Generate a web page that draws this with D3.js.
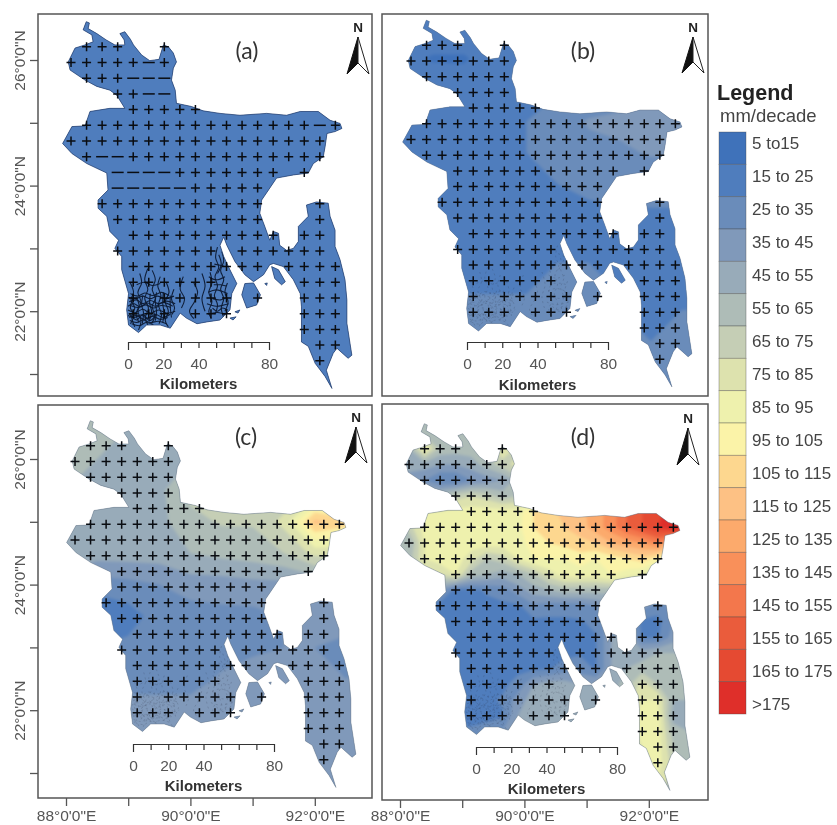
<!DOCTYPE html>
<html>
<head>
<meta charset="utf-8">
<script src="https://cdn.jsdelivr.net/npm/d3@7"></script>
<style>
  html, body { margin: 0; padding: 0; background: #fff; }
  svg { display: block; filter: blur(0.6px); }
  text { font-family: "Liberation Sans", Arial, sans-serif; }
</style>
</head>
<body>
<svg id="chart" width="837" height="825"></svg>
<script>
// legend classes, mm/decade
const classLabels = ['5 to15', '15 to 25', '25 to 35', '35 to 45', '45 to 55', '55 to 65', '65 to 75', '75 to 85', '85 to 95',
  '95 to 105', '105 to 115', '115 to 125', '125 to 135', '135 to 145', '145 to 155', '155 to 165', '165 to 175', '>175'];
const classBreaks = [5, 15, 25, 35, 45, 55, 65, 75, 85, 95, 105, 115, 125, 135, 145, 155, 165, 175];
const classColors = ['#3f72ba', '#4f7dbd', '#6a8cba', '#8099ba', '#98abb9', '#aebcb7', '#c5ceb5', '#dde2ae', '#eef1ad',
  '#fbf3a8', '#fdd78f', '#fdc184', '#fcaa6c', '#f9905a', '#f3774c', '#ea5c3c', '#e54a32', '#df2f2a'];

// country outline, lon/lat
const mainland = [[88.39,26.61],[88.44,26.59],[88.42,26.50],[88.56,26.42],[88.71,26.32],[88.85,26.24],[89.01,26.24],[89.00,26.32],[88.93,26.42],[89.01,26.45],
  [89.10,26.33],[89.15,26.24],[89.28,26.08],[89.41,25.99],[89.56,26.01],[89.63,26.24],[89.71,26.21],[89.79,26.11],[89.84,25.97],[89.79,25.87],
  [89.76,25.68],[89.82,25.52],[89.84,25.31],[90.08,25.26],[90.27,25.19],[90.54,25.15],[90.86,25.12],[91.29,25.15],[91.61,25.12],[91.83,25.18],
  [92.12,25.18],[92.31,25.04],[92.47,24.99],[92.50,24.91],[92.39,24.86],[92.26,24.83],[92.23,24.62],[92.20,24.46],[92.04,24.35],[91.96,24.20],
  [91.72,24.17],[91.45,24.12],[91.32,23.93],[91.21,23.77],[91.18,23.56],[91.26,23.35],[91.34,23.13],[91.40,23.27],[91.48,23.24],[91.50,23.05],
  [91.61,22.97],[91.72,23.00],[91.80,23.11],[91.80,23.35],[91.96,23.51],[91.93,23.69],[92.09,23.74],[92.28,23.72],[92.31,23.51],[92.39,23.29],
  [92.39,23.03],[92.47,22.82],[92.55,22.50],[92.58,22.18],[92.58,21.81],[92.66,21.30],[92.60,21.25],[92.42,21.41],[92.36,21.33],[92.25,21.06],
  [92.34,20.77],[92.23,20.96],[92.07,21.17],[91.96,21.44],[91.85,21.51],[91.85,21.86],[91.85,22.07],[91.83,22.28],[91.72,22.50],[91.56,22.71],
  [91.40,22.76],[91.34,22.74],[91.24,22.58],[91.08,22.47],[90.94,22.58],[90.78,22.79],[90.65,23.05],[90.60,23.18],[90.54,23.05],[90.60,22.87],
  [90.70,22.66],[90.81,22.44],[90.73,22.28],[90.70,22.02],[90.54,21.86],[90.33,21.83],[90.17,21.80],[90.00,21.89],[89.90,21.97],[89.74,21.73],
  [89.58,21.78],[89.36,21.78],[89.23,21.66],[89.07,21.78],[89.04,22.02],[89.07,22.28],[88.96,22.66],[88.96,22.87],[88.85,23.00],[88.91,23.13],
  [88.77,23.27],[88.72,23.51],[88.58,23.64],[88.58,23.77],[88.74,23.93],[88.72,24.20],[88.40,24.35],[88.16,24.51],[88.01,24.67],[88.16,24.94],
  [88.37,24.95],[88.45,25.18],[88.77,25.23],[89.01,25.23],[88.88,25.44],[88.77,25.52],[88.56,25.58],[88.37,25.68],[88.13,25.84],[88.10,25.97],
  [88.21,26.19],[88.37,26.24],[88.50,26.29],[88.48,26.40],[88.34,26.48]];
const islands = [
  [[90.94,22.44],[91.08,22.45],[91.19,22.26],[91.13,22.10],[90.97,22.05],[90.89,22.26]],
  [[91.37,22.71],[91.48,22.66],[91.59,22.47],[91.53,22.42],[91.42,22.52]],
  [[91.26,22.44],[91.30,22.45],[91.29,22.41]],
  [[90.78,21.99],[90.86,22.02],[90.83,21.97]],
  [[90.70,21.89],[90.80,21.91],[90.75,21.86]]];

// delta channels in the south
const rivers = [
  [[89.10,22.45],[89.15,22.30],[89.11,22.18],[89.17,22.05],[89.12,21.92],[89.17,21.75]],
  [[89.25,22.60],[89.28,22.45],[89.22,22.30],[89.27,22.15],[89.22,22.00],[89.27,21.85],[89.23,21.70]],
  [[89.38,22.68],[89.33,22.50],[89.38,22.35],[89.33,22.20],[89.39,22.05],[89.34,21.90],[89.38,21.78]],
  [[89.45,22.65],[89.50,22.50],[89.45,22.35],[89.50,22.20],[89.45,22.08],[89.49,21.92],[89.44,21.80]],
  [[89.58,22.55],[89.54,22.40],[89.59,22.25],[89.55,22.10],[89.60,21.95],[89.56,21.80]],
  [[89.68,22.45],[89.72,22.30],[89.66,22.15],[89.71,22.00],[89.66,21.85],[89.71,21.75]],
  [[89.80,22.35],[89.76,22.20],[89.81,22.05],[89.77,21.95]],
  [[89.08,22.15],[89.20,22.18],[89.30,22.12],[89.42,22.17],[89.55,22.12],[89.68,22.16],[89.82,22.12]],
  [[89.06,22.02],[89.18,21.98],[89.30,22.03],[89.42,21.97],[89.55,22.02],[89.68,21.97],[89.82,22.00]],
  [[89.08,21.90],[89.20,21.93],[89.32,21.87],[89.45,21.92],[89.58,21.87],[89.70,21.90]],
  [[89.10,22.28],[89.22,22.24],[89.33,22.29],[89.46,22.25],[89.60,22.30],[89.72,22.25]],
  [[89.20,22.42],[89.32,22.46],[89.45,22.41],[89.58,22.44]],
  [[89.12,21.80],[89.25,21.77],[89.35,21.82],[89.47,21.78]],
  [[89.10,22.09],[89.22,22.06],[89.35,22.10],[89.47,22.05],[89.60,22.09],[89.75,22.06]],
  [[89.08,21.96],[89.20,21.86],[89.30,21.95],[89.41,21.85],[89.52,21.95]],
  [[89.06,22.08],[89.15,22.12],[89.26,22.07],[89.37,22.13],[89.50,22.08],[89.62,22.14],[89.78,22.08]],
  [[89.06,21.93],[89.16,21.90],[89.27,21.94],[89.38,21.88],[89.50,21.95],[89.62,21.90],[89.74,21.95]],
  [[89.09,21.85],[89.20,21.82],[89.30,21.86],[89.42,21.82],[89.55,21.84],[89.68,21.80]],
  [[89.07,22.22],[89.18,22.20],[89.30,22.24],[89.42,22.20],[89.53,22.24],[89.66,22.20],[89.80,22.24]],
  [[89.14,22.20],[89.10,22.05],[89.16,21.95],[89.10,21.80]],
  [[89.20,22.20],[89.24,22.10],[89.19,21.95],[89.24,21.82]],
  [[89.30,22.25],[89.28,22.10],[89.31,21.98],[89.29,21.80]],
  [[89.42,22.28],[89.41,22.12],[89.44,22.00],[89.40,21.84]],
  [[89.52,22.30],[89.50,22.15],[89.52,22.00],[89.50,21.85]],
  [[89.63,22.30],[89.62,22.12],[89.64,21.98],[89.62,21.82]],
  [[89.74,22.25],[89.74,22.08],[89.76,21.90]],
  [[90.50,23.02],[90.47,22.85],[90.52,22.70],[90.46,22.55],[90.50,22.40],[90.45,22.25],[90.50,22.10],[90.46,21.95]],
  [[90.57,22.95],[90.60,22.80],[90.55,22.65],[90.60,22.50],[90.55,22.35],[90.60,22.20],[90.56,22.05],[90.60,21.90]],
  [[90.38,22.62],[90.41,22.45],[90.36,22.30],[90.41,22.15],[90.36,22.00],[90.40,21.88]],
  [[90.66,22.45],[90.62,22.30],[90.67,22.15],[90.62,22.00]],
  [[90.36,22.55],[90.48,22.50],[90.62,22.55]],
  [[90.35,22.30],[90.48,22.34],[90.66,22.28]],
  [[90.33,22.12],[90.48,22.08],[90.68,22.12]],
  [[90.35,21.95],[90.50,21.98],[90.66,21.93]],
  [[90.45,22.75],[90.60,22.72]],
  [[90.42,22.05],[90.50,22.00],[90.58,22.05],[90.66,22.02]],
  [[90.52,22.90],[90.56,22.75],[90.50,22.60]],
  [[90.44,22.42],[90.55,22.42],[90.64,22.40]],
  [[90.42,22.20],[90.55,22.18],[90.65,22.22]],
  [[89.95,22.55],[89.90,22.35],[89.97,22.20],[89.92,22.05]],
  [[90.12,22.45],[90.18,22.30],[90.13,22.15],[90.05,22.00],[90.12,21.88]],
  [[90.25,22.60],[90.30,22.40],[90.25,22.20],[90.30,22.00]]];

// station grid
const gridLons = [88.145, 88.395, 88.645, 88.895, 89.145, 89.395, 89.645, 89.895, 90.145, 90.395, 90.645, 90.895, 91.145, 91.395, 91.645, 91.895, 92.145, 92.395];
const gridLats = [26.21, 25.96, 25.71, 25.46, 25.21, 24.96, 24.71, 24.46, 24.21, 23.96, 23.71, 23.46, 23.21, 22.96, 22.71, 22.46, 22.21, 21.96, 21.71, 21.46, 21.21];
const gridCols = [
  [1,2,3,6], [0,1,2,3,4,5,6], [1,2,3,4,5,6], [3,4,5,6], [4,5,6,7,8],
  [1,2,3,4,5,6,7,8,9,10,11,12,13,14,15,16,17], [0,1,2,3,4,5,6,7,8,9,10,11,12,13,14,15,16], [1,2,3,4,5,6,7,8,9,10,11,12,13,14,15,16],
  [3,4,5,6,7,8,9,10,11,12,13,15], [3,4,5,6,7,8,9,10,11,12], [2,3,4,5,6,7,8,9,10,11,12,16], [3,4,5,6,7,8,9,10,11,12,16],
  [4,5,6,7,8,9,10,11,12,13,15,16], [3,4,5,6,7,8,9,11,12,13,14,15,16], [4,5,6,7,8,9,10,11,12,14,15,16,17], [4,5,6,7,8,9,15,16,17],
  [4,6,7,8,9,10,12,15,16,17], [4,5,6,8,9,10,15,16,17], [15,16,17], [16,17], [16]];
// in (a) these stations print as a dash, [row, col]
const dashCellsA = [[1,5],[2,4],[2,5],[2,6],[3,5],[3,6],[5,16],[7,2],[7,3],[8,3],[8,4],[8,5],[8,6],[9,3],[9,4],[9,5],[9,6],[9,7]];

// trend surfaces
const coarseLons = [88, 88.5, 89, 89.5, 90, 90.5, 91, 91.5, 92, 92.5, 93];
const coarseLats = [26.5, 26, 25.5, 25, 24.5, 24, 23.5, 23, 22.5, 22, 21.5, 21, 20.5];
const valuesA = [
  [20,20,20,20,20,20,20,20,20,20,20],[20,20,20,20,20,20,20,20,20,20,20],[20,20,20,20,20,20,20,20,20,20,20],
  [20,20,20,20,20,20,20,20,20,20,20],[20,20,20,20,20,20,20,20,20,20,20],[20,20,20,20,20,20,20,20,20,20,20],
  [20,20,20,20,20,20,20,20,20,20,20],[20,20,20,20,20,20,20,20,20,20,20],[20,20,20,20,20,20,20,20,20,20,20],
  [20,20,20,20,20,20,20,20,20,20,20],[20,20,20,20,20,20,20,20,20,20,20],[20,20,20,20,20,20,20,20,20,20,20],
  [20,20,20,20,20,20,20,20,20,20,20]];
const valuesB = [
  [22,22,22,22,22,22,22,22,22,22,22],
  [18,14,14,20,22,22,22,22,22,22,22],
  [22,22,20,22,23,24,26,28,30,30,30],
  [24,22,22,23,25,30,36,38,43,43,40],
  [22,22,22,24,25,29,32,33,36,36,35],
  [22,22,22,23,24,25,26,27,28,28,28],
  [22,22,21,22,23,24,24,24,24,24,24],
  [22,22,22,22,23,24,24,23,23,23,23],
  [24,24,24,24,24,26,26,24,23,24,24],
  [26,26,26,26,26,27,27,25,24,25,25],
  [26,26,26,26,26,26,26,26,25,25,25],
  [26,26,26,26,26,26,26,26,25,25,25],
  [26,26,26,26,26,26,26,26,25,25,25]];
const valuesC = [
  [58,58,55,55,55,55,55,55,55,55,55],
  [58,55,48,50,55,56,56,56,56,56,56],
  [55,52,50,52,68,72,66,66,74,72,72],
  [50,52,50,52,62,66,66,78,118,110,100],
  [50,50,50,50,55,58,60,65,78,78,70],
  [40,30,32,35,40,40,42,42,45,50,50],
  [20,15,20,30,30,32,32,35,40,40,40],
  [30,25,28,28,30,32,32,35,35,32,32],
  [32,32,32,32,32,36,42,42,35,35,38],
  [36,36,38,38,38,40,42,40,38,38,40],
  [40,40,40,40,40,40,40,42,42,40,40],
  [40,40,40,40,40,40,40,42,44,42,40],
  [40,40,40,40,40,40,40,42,44,42,40]];
const fineLons = [87.895, 88.145, 88.395, 88.645, 88.895, 89.145, 89.395, 89.645, 89.895, 90.145, 90.395, 90.645, 90.895, 91.145, 91.395, 91.645, 91.895, 92.145, 92.395, 92.645];
const fineLats = [26.46, 26.21, 25.96, 25.71, 25.46, 25.21, 24.96, 24.71, 24.46, 24.21, 23.96, 23.71, 23.46, 23.21, 22.96, 22.71, 22.46, 22.21, 21.96, 21.71, 21.46, 21.21, 20.96];
const valuesD = [
  [60,60,60,62,62,60,60,60,60,60,60,60,60,60,60,60,60,60,60,60],
  [55,55,90,62,60,60,60,85,72,72,60,60,60,60,60,60,60,60,60,60],
  [50,50,50,45,45,50,60,70,80,80,80,80,80,80,80,80,80,80,80,80],
  [40,40,35,25,25,35,40,45,60,70,80,80,80,80,80,80,80,80,80,80],
  [60,60,60,60,70,75,70,60,65,75,85,85,85,85,85,85,85,85,85,85],
  [80,80,85,85,88,90,90,90,90,105,112,118,122,130,140,155,165,172,180,180],
  [65,70,90,90,90,90,90,90,92,105,110,115,120,130,140,155,165,175,185,180],
  [60,55,85,90,90,90,90,90,90,100,105,108,112,115,125,130,135,145,120,110],
  [60,60,85,90,90,80,65,70,85,95,95,95,100,95,100,105,110,100,90,90],
  [60,60,70,75,85,60,55,50,55,65,80,90,90,90,95,90,85,70,70,70],
  [40,40,40,40,22,23,26,30,40,50,55,60,60,60,60,60,60,50,50,50],
  [20,20,20,20,23,23,23,23,23,33,30,30,30,35,40,40,40,30,35,35],
  [22,22,22,22,23,23,23,23,23,23,23,23,24,28,40,40,22,22,35,35],
  [22,22,22,22,22,22,23,23,23,23,23,23,24,24,45,50,24,24,40,40],
  [18,18,18,18,18,23,23,23,23,23,22,22,24,24,45,50,50,55,55,55],
  [23,23,23,23,23,23,23,23,23,23,24,30,30,24,45,55,60,60,58,55],
  [23,23,23,23,23,23,23,23,28,45,50,50,45,45,50,60,80,65,55,55],
  [23,23,23,23,23,23,23,26,40,50,50,50,50,50,50,70,85,85,55,55],
  [23,23,23,23,23,23,23,24,45,50,50,50,50,50,50,75,90,90,50,50],
  [26,26,26,26,26,26,28,35,45,50,50,50,50,50,50,75,90,90,60,55],
  [28,28,28,28,28,28,28,35,45,50,50,50,50,50,50,70,85,90,65,60],
  [28,28,28,28,28,28,28,35,45,50,50,50,50,50,50,70,85,90,70,60],
  [28,28,28,28,28,28,28,35,45,50,50,50,50,50,50,70,85,85,70,60]];

const latTicks = [26, 25, 24, 23, 22, 21];
const lonTicks = [88, 89, 90, 91, 92];
const kmTicks = [0, 10, 20, 30, 40, 50, 60, 70, 80];
const kmLabels = [0, 20, 40, 80];

const pxPerLon = 62.2;
const pxPerLat = 62.8;

const panels = [
  { id: 'a', frame: [38, 14, 372, 396], x88: 62, y26: 60, lons: coarseLons, lats: coarseLats, values: valuesA, base: 20,
    left: true, bottom: false, bar: [128, 342], kmY: 389, label: [247, 59], arrow: [358, 32, 37, 74] },
  { id: 'b', frame: [382, 14, 708, 396], x88: 402, y26: 58.5, lons: coarseLons, lats: coarseLats, values: valuesB, base: 22,
    left: false, bottom: false, bar: [467, 342], kmY: 390, label: [583, 59], arrow: [693, 32, 37, 73] },
  { id: 'c', frame: [38, 405, 372, 798], x88: 66, y26: 459, lons: coarseLons, lats: coarseLats, values: valuesC, base: 50,
    left: true, bottom: true, tickPad: 4, bar: [133, 744], kmY: 791, label: [246, 445], arrow: [356, 422, 427, 463] },
  { id: 'd', frame: [382, 404, 708, 800], x88: 400, y26: 462, lons: fineLons, lats: fineLats, values: valuesD, base: 60,
    left: false, bottom: true, tickPad: 2, bar: [476, 747], kmY: 794, label: [583, 445], arrow: [688, 423, 428, 465] }
];

const svg = d3.select('#chart');
const grey = '#555';

panels.forEach((p) => {
  const [x0, y0, x1, y1] = p.frame;
  const lonScale = d3.scaleLinear().domain([88, 89]).range([p.x88, p.x88 + pxPerLon]);
  const latScale = d3.scaleLinear().domain([26, 25]).range([p.y26, p.y26 + pxPerLat]);
  const line = d3.line().x((d) => lonScale(d[0])).y((d) => latScale(d[1]));
  const land = [mainland, ...islands].map((r) => line(r) + 'Z').join('');

  svg.append('clipPath').attr('id', 'land-' + p.id).append('path').attr('d', land);

  const g = svg.append('g');

  // base fill, then the classed surface clipped to the country
  g.append('path').attr('d', land).attr('fill', classColors[d3.bisectRight(classBreaks, p.base) - 1]);

  const nx = p.lons.length;
  const ny = p.lats.length;
  const dLon = p.lons[1] - p.lons[0];
  const dLat = p.lats[0] - p.lats[1];
  const bands = d3.contours().size([nx, ny]).thresholds(classBreaks)(p.values.flat());
  const project = d3.geoTransform({
    point: function (x, y) {
      this.stream.point(lonScale(p.lons[0] + (x - 0.5) * dLon), latScale(p.lats[0] - (y - 0.5) * dLat));
    }
  });
  const bandPath = d3.geoPath(project);
  g.append('g')
    .attr('clip-path', 'url(#land-' + p.id + ')')
    .append('g')
    .style('filter', 'blur(1.6px)')
    .selectAll('path')
    .data(bands)
    .enter()
    .append('path')
    .attr('d', bandPath)
    .attr('fill', (d) => classColors[classBreaks.indexOf(d.value)]);

  // rivers: full black in (a), only a faint trace elsewhere
  g.append('g')
    .attr('clip-path', 'url(#land-' + p.id + ')')
    .selectAll('path')
    .data(rivers)
    .enter()
    .append('path')
    .attr('d', (d) => line.curve(d3.curveCatmullRom)(d))
    .attr('fill', 'none')
    .attr('stroke', p.id === 'a' ? '#0d1a33' : '#2b3444')
    .attr('stroke-width', p.id === 'a' ? 1.1 : 0.6)
    .attr('stroke-opacity', p.id === 'a' ? 0.95 : 0.3)
    .attr('stroke-dasharray', p.id === 'a' ? null : '2 3');
  line.curve(d3.curveLinear);

  g.append('path')
    .attr('d', land)
    .attr('fill', 'none')
    .attr('stroke', p.id === 'a' ? '#27406e' : '#5d6b80')
    .attr('stroke-width', p.id === 'a' ? 0.9 : 0.5)
    .attr('stroke-opacity', 0.8);

  // stations
  const stations = gridCols.flatMap((cols, r) => cols.map((c) => ({ r, c })));
  g.append('g')
    .selectAll('path')
    .data(stations)
    .enter()
    .append('path')
    .attr('transform', (d) => 'translate(' + lonScale(gridLons[d.c]) + ',' + latScale(gridLats[d.r]) + ')')
    .attr('d', (d) => {
      const dashed = p.id === 'a' && dashCellsA.some((k) => k[0] === d.r && k[1] === d.c);
      return dashed ? 'M-6,0H6' : 'M-4.5,0H4.5M0,-4.5V4.5';
    })
    .attr('fill', 'none')
    .attr('stroke', '#0a0d12')
    .attr('stroke-width', 1.5);

  // frame
  svg.append('rect')
    .attr('x', x0)
    .attr('y', y0)
    .attr('width', x1 - x0)
    .attr('height', y1 - y0)
    .attr('fill', 'none')
    .attr('stroke', grey)
    .attr('stroke-width', 1.5);

  // graticule ticks
  if (p.left) {
    const axis = svg.append('g')
      .attr('transform', 'translate(' + x0 + ',0)')
      .call(d3.axisLeft(latScale).tickValues(latTicks).tickSize(8)
        .tickFormat((d) => (d % 2 === 0 ? d + '°0\'0"N' : '')));
    axis.select('.domain').remove();
    axis.selectAll('line').attr('stroke', grey).attr('stroke-width', 1.3);
    axis.selectAll('text')
      .attr('x', 0)
      .attr('dy', 0)
      .attr('transform', 'translate(-13,0) rotate(-90)')
      .attr('text-anchor', 'middle')
      .style('font-size', '15.5px')
      .attr('fill', grey);
  }
  if (p.bottom) {
    const axis = svg.append('g')
      .attr('transform', 'translate(0,' + y1 + ')')
      .call(d3.axisBottom(lonScale).tickValues(lonTicks).tickSize(8).tickPadding(p.tickPad)
        .tickFormat((d) => (d % 2 === 0 ? d + '°0\'0"E' : '')));
    axis.select('.domain').remove();
    axis.selectAll('line').attr('stroke', grey).attr('stroke-width', 1.3);
    axis.selectAll('text').style('font-size', '15.5px').attr('fill', grey);
  }

  // scale bar
  const kmScale = d3.scaleLinear().domain([0, 80]).range([0, 141]);
  const bar = svg.append('g')
    .attr('transform', 'translate(' + p.bar[0] + ',' + p.bar[1] + ')')
    .call(d3.axisBottom(kmScale).tickValues(kmTicks).tickSize(8).tickPadding(8).tickSizeOuter(0)
      .tickFormat((d) => (kmLabels.includes(d) ? d : '')));
  bar.select('.domain').attr('stroke', '#333').attr('stroke-width', 1.2);
  bar.selectAll('line')
    .attr('stroke', '#333')
    .attr('stroke-width', 1.2)
    .attr('y2', (d) => (d === 0 || d === 80 ? 8 : 6));
  bar.selectAll('text').style('font-size', '15.5px').attr('fill', grey);
  svg.append('text')
    .attr('x', p.bar[0] + kmScale(40))
    .attr('y', p.kmY)
    .attr('text-anchor', 'middle')
    .style('font-size', '15px')
    .style('font-weight', 'bold')
    .attr('fill', '#333')
    .text('Kilometers');

  // panel letter
  svg.append('text')
    .attr('x', p.label[0])
    .attr('y', p.label[1])
    .attr('text-anchor', 'middle')
    .style('font-family', 'Lato, "Open Sans", sans-serif')
    .style('font-size', '23px')
    .attr('fill', '#333')
    .text('(' + p.id + ')');

  // north arrow
  const [ax, nY, top, foot] = p.arrow;
  svg.append('text')
    .attr('x', ax)
    .attr('y', nY)
    .attr('text-anchor', 'middle')
    .style('font-size', '13.5px')
    .style('font-weight', 'bold')
    .attr('fill', '#222')
    .text('N');
  const notch = foot - 11;
  svg.append('path')
    .attr('d', 'M' + ax + ',' + top + 'L' + (ax - 11) + ',' + foot + 'L' + ax + ',' + notch + 'Z')
    .attr('fill', '#111')
    .attr('stroke', '#111');
  svg.append('path')
    .attr('d', 'M' + ax + ',' + top + 'L' + (ax + 11) + ',' + foot + 'L' + ax + ',' + notch + 'Z')
    .attr('fill', '#fff')
    .attr('stroke', '#222');
});

// legend
const legendY = d3.scaleBand().domain(classLabels).range([132, 714]);
const legendText = d3.scalePoint().domain(classLabels).range([149, 710]);
const legend = svg.append('g');
legend.append('text')
  .attr('x', 717)
  .attr('y', 100)
  .style('font-size', '21.5px')
  .style('font-weight', 'bold')
  .attr('fill', '#222')
  .text('Legend');
legend.append('text')
  .attr('x', 720)
  .attr('y', 122)
  .style('font-size', '18.5px')
  .attr('fill', '#444')
  .text('mm/decade');
legend.selectAll('rect')
  .data(classLabels)
  .enter()
  .append('rect')
  .attr('x', 719)
  .attr('y', (d) => legendY(d))
  .attr('width', 27)
  .attr('height', legendY.bandwidth())
  .attr('fill', (d, i) => classColors[i])
  .attr('stroke', 'rgba(70,70,70,0.45)')
  .attr('stroke-width', 0.8);
legend.selectAll('text.class')
  .data(classLabels)
  .enter()
  .append('text')
  .attr('class', 'class')
  .attr('x', 752)
  .attr('y', (d) => legendText(d))
  .style('font-size', '17px')
  .attr('fill', '#444')
  .text((d) => d);
</script>
</body>
</html>
